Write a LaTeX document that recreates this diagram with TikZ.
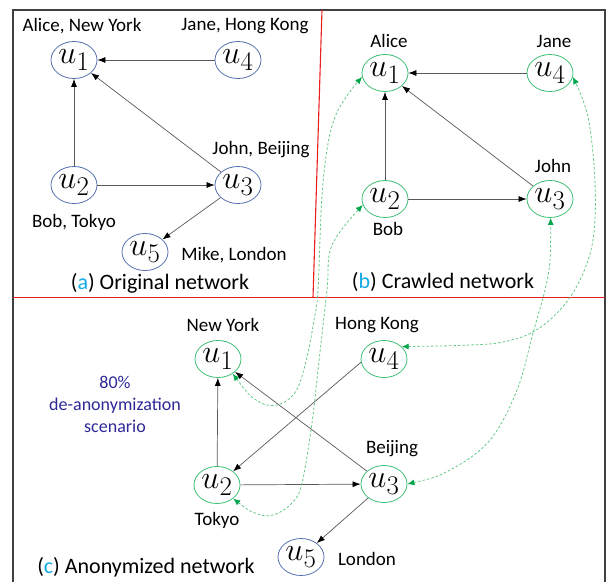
\documentclass[tikz,border=0pt]{standalone}
\usepackage{fontspec}
\setmainfont{Carlito}
\usetikzlibrary{arrows.meta,shapes.geometric}
\definecolor{nblue}{RGB}{85,110,175}
\definecolor{ngreen}{RGB}{60,190,115}
\definecolor{dgreen}{RGB}{100,200,135}
\definecolor{hgreen}{RGB}{0,165,75}
\definecolor{capblue}{RGB}{20,170,230}
\definecolor{scenblue}{RGB}{45,40,150}
\definecolor{sepred}{RGB}{235,30,30}
\newcommand{\uu}[1]{\scalebox{1.3}{\Huge$u_{#1}$}}
\tikzset{
  unode/.style={ellipse, line width=0.8pt, minimum width=46pt, minimum height=37pt, inner sep=0pt},
  bluenode/.style={unode, draw=nblue},
  greennode/.style={unode, draw=ngreen},
  lbl/.style={inner sep=0pt, font=\fontsize{19}{20}\selectfont},
  captxt/.style={inner sep=0pt, font=\fontsize{22}{24}\selectfont},
  edgearrow/.style={draw=black!65, line width=0.7pt, -{Latex[length=8pt,width=6pt,color=black]}},
  maparrow/.style={draw=dgreen, dash pattern=on 2.5pt off 2pt, line width=0.8pt,
     {Latex[length=7pt,width=6pt,color=hgreen]}-{Latex[length=7pt,width=6pt,color=hgreen]}},
}
\begin{document}
\begin{tikzpicture}[x=1pt,y=-1pt]
\useasboundingbox (0,0) rectangle (608,582);
% frame
\draw[black!75, line width=1.2pt] (13,582) -- (13,10) -- (605,10) -- (605,582);
\draw[sepred, line width=1.1pt] (13,297.5) -- (605,297.5);
\draw[sepred, line width=1.1pt] (322,10) -- (313,297.5);

% (a) original network
\node[bluenode] (au1) at (74,60) {\uu{1}};
\node[bluenode] (au4) at (238,60) {\uu{4}};
\node[bluenode] (au2) at (74,185) {\uu{2}};
\node[bluenode] (au3) at (238,185) {\uu{3}};
\node[bluenode] (au5) at (145,252) {\uu{5}};
\node[lbl] (la1) at (82,26) {Alice, New York};
\node[lbl] (la4) at (245,26) {Jane, Hong Kong};
\node[lbl] (la3) at (261,150) {John, Beijing};
\node[lbl] (la2) at (74,222) {Bob, Tokyo};
\node[lbl] (la5) at (234,255) {Mike, London};
\node[captxt] (capa) at (160,283) {(\textcolor{capblue}{a}) Original network};
\draw[edgearrow] (au4) -- (au1);
\draw[edgearrow] (au2) -- (au1);
\draw[edgearrow] (au3) -- (au1);
\draw[edgearrow] (au2) -- (au3);
\draw[edgearrow] (au3) -- (au5);

% (b) crawled network
\node[greennode] (bu1) at (385,73) {\uu{1}};
\node[greennode] (bu4) at (550,73) {\uu{4}};
\node[greennode] (bu2) at (385,199) {\uu{2}};
\node[greennode] (bu3) at (550,199) {\uu{3}};
\node[lbl] (lb1) at (389,41) {Alice};
\node[lbl] (lb4) at (554,41) {Jane};
\node[lbl] (lb3) at (553,166) {John};
\node[lbl] (lb2) at (388,229) {Bob};
\node[captxt] (capb) at (443,282) {(\textcolor{capblue}{b}) Crawled network};
\draw[edgearrow] (bu4) -- (bu1);
\draw[edgearrow] (bu2) -- (bu1);
\draw[edgearrow] (bu3) -- (bu1);
\draw[edgearrow] (bu2) -- (bu3);

% (c) anonymized network
\node[greennode] (cu1) at (218,359) {\uu{1}};
\node[greennode] (cu4) at (384,359) {\uu{4}};
\node[greennode] (cu2) at (217,485) {\uu{2}};
\node[greennode] (cu3) at (384,484) {\uu{3}};
\node[bluenode] (cu5) at (301,557) {\uu{5}};
\node[lbl] (lc1) at (223,325) {New York};
\node[lbl] (lc4) at (377,325) {Hong Kong};
\node[lbl] (lc3) at (392,449) {Beijing};
\node[lbl] (lc2) at (217,520) {Tokyo};
\node[lbl] (lc5) at (367,559) {London};
\node[captxt] (capc) at (146,567) {(\textcolor{capblue}{c}) Anonymized network};
\node[inner sep=0pt, font=\fontsize{18}{22}\selectfont, text=scenblue, align=center] (scen) at (115,404) {80\%\\de-anonymization\\scenario};
\draw[edgearrow] (cu3) -- (cu1);
\draw[edgearrow] (cu4.188) -- (cu2);
\draw[edgearrow] (cu2) -- (cu1);
\draw[edgearrow] (cu2) -- (cu3);
\draw[edgearrow] (cu3) -- (cu5);

% mapping arrows
\draw[maparrow] plot[smooth, tension=0.6] coordinates {(cu1.-45) (256,400) (277,405) (296,391) (307,357) (314,320) (318,290) (323,183) (335,117) (bu1.190)};
\draw[maparrow] plot[smooth, tension=0.6] coordinates {(cu2.-40) (255,513) (273,515) (292,503) (302,483) (312,423) (318,370) (327,290) (332,245) (bu2.195)};
\draw[maparrow] plot[smooth, tension=0.6] coordinates {(cu4.35) (470,345) (503,342) (533,332) (560,310) (580,280) (593,240) (595,183) (588,117) (bu4.-10)};
\draw[maparrow] plot[smooth, tension=0.6] coordinates {(cu3.0) (450,470) (490,440) (517,390) (533,333) (545,290) (550,260) (bu3.-88)};
\end{tikzpicture}
\end{document}
